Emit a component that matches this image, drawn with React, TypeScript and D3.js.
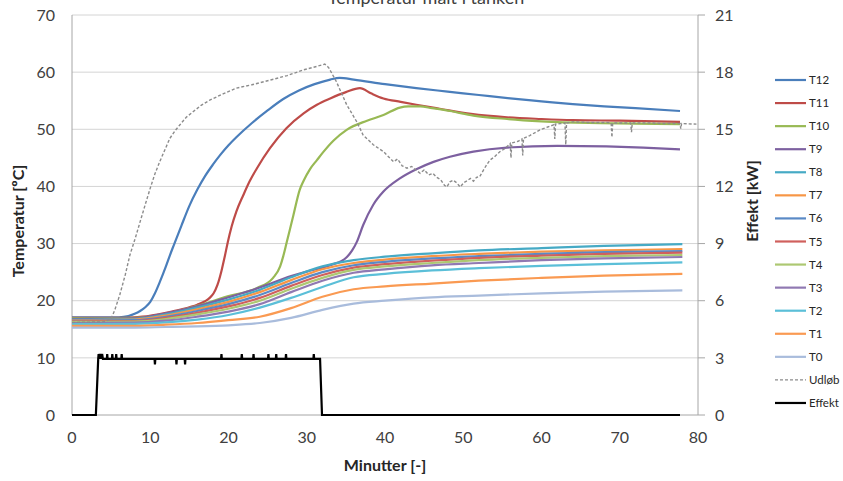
import React from "react";
import * as d3 from "d3";

type P = [number, number];

// ---- data ----
const minutesLow = [0, 8, 12, 16, 20, 24, 28, 32, 36, 40, 46, 52, 60, 68, 78];
const T8 = [16.7, 16.8, 17.6, 18.8, 20.2, 21.9, 24.1, 26.0, 27.1, 27.7, 28.3, 28.8, 29.2, 29.6, 29.9];
const T7 = [16.6, 16.7, 17.4, 18.5, 19.8, 21.5, 23.6, 25.5, 26.6, 27.2, 27.8, 28.2, 28.6, 28.8, 29.05];
const T6 = [16.5, 16.6, 17.2, 18.2, 19.4, 21.0, 23.1, 25.0, 26.2, 26.8, 27.4, 27.8, 28.2, 28.5, 28.7];
const T5 = [16.4, 16.45, 17.0, 17.9, 19.0, 20.5, 22.6, 24.5, 25.8, 26.4, 27.0, 27.5, 27.9, 28.2, 28.4];
const T4 = [16.3, 16.35, 16.8, 17.6, 18.6, 20.0, 22.1, 24.0, 25.4, 26.0, 26.6, 27.1, 27.5, 27.8, 28.0];
const T3 = [16.1, 16.15, 16.5, 17.2, 18.1, 19.4, 21.5, 23.5, 24.9, 25.5, 26.2, 26.6, 27.1, 27.4, 27.65];
const T2 = [15.9, 15.95, 16.2, 16.7, 17.5, 18.8, 20.5, 22.4, 24.1, 24.7, 25.3, 25.7, 26.1, 26.4, 26.7];
const T1 = [15.6, 15.6, 15.8, 16.1, 16.6, 17.2, 18.7, 20.7, 22.0, 22.5, 23.0, 23.5, 24.0, 24.4, 24.7];
const T0 = [15.3, 15.3, 15.4, 15.5, 15.7, 16.1, 17.0, 18.4, 19.5, 20.0, 20.6, 20.9, 21.3, 21.6, 21.8];

const T12: P[] = [[0,17.1],[6,17.1],[7.2,17.3],[8,17.7],[8.7,18.2],[9.4,18.9],[10,19.8],[10.6,21.3],[11.2,23.2],[12,26.0],[12.5,27.9],[13,29.7],[14,33.2],[15,36.6],[16,39.4],[17,41.8],[18,43.8],[19,45.6],[20,47.2],[21,48.6],[23,51.1],[25,53.3],[27,55.3],[29,56.8],[31,57.9],[33,58.7],[34.2,59.0],[36,58.7],[40,57.9],[44,57.2],[48,56.6],[52,56.0],[56,55.4],[60,54.9],[64,54.4],[68,54.0],[72,53.7],[77.7,53.2]];
const T11: P[] = [[0,17.0],[7,17.0],[9,17.2],[12,17.9],[14,18.5],[16,19.3],[17,19.9],[17.6,20.5],[18.1,21.3],[18.6,22.8],[19.1,25.2],[19.5,27.6],[19.9,30.2],[20.4,33.0],[21.0,35.6],[21.9,38.5],[22.7,40.9],[23.6,43.1],[25.3,46.7],[27.4,50.2],[29.6,52.8],[31.3,54.3],[33,55.4],[35,56.5],[36.8,57.2],[38.2,56.3],[39.8,55.4],[42,54.8],[44,54.3],[47,53.6],[51,52.7],[55.6,52.1],[60,51.8],[64,51.6],[70,51.5],[77.7,51.3]];
const T10: P[] = [[0,16.9],[8,17.0],[12,17.7],[16,19.1],[20,20.8],[23.6,22.2],[25.7,24.0],[26.6,26.0],[27.0,27.8],[27.4,30.0],[28.3,35.0],[29.1,39.4],[29.6,41.0],[30.4,43.0],[31.3,44.6],[32.1,46.0],[33.4,48.0],[35.1,49.9],[37.7,51.5],[39.8,52.5],[41.9,53.8],[43,54.0],[44.5,54.0],[46,53.7],[48.3,53.2],[51.3,52.4],[55.6,51.8],[60,51.4],[66,51.1],[72,51.0],[77.7,50.9]];
const T9: P[] = [[0,16.8],[8,16.9],[12,17.8],[16,19.0],[20,20.6],[24,22.3],[28,24.3],[30,25.1],[32,25.8],[33.4,26.4],[34.4,26.9],[35.1,27.6],[35.8,28.8],[36.4,30.3],[37.2,33.2],[38.5,36.8],[39.8,39.1],[41.9,41.4],[44,43.0],[46.2,44.3],[48.3,45.2],[51.3,46.1],[55.6,46.8],[62,47.1],[68.3,47.0],[73,46.8],[77.7,46.5]];

const udlob: P[] = [[0,16.2],[4,16.3],[5,16.8],[5.5,18.5],[6.1,21],[6.8,24.5],[7.4,28],[8.1,31],[8.7,33.8],[9.4,37],[10,39.7],[10.6,42.2],[11.2,44.3],[11.9,46.5],[12.5,48.4],[13.2,49.8],[13.8,50.8],[14.6,52.1],[15.5,53.1],[16.5,54.2],[17.6,55.1],[19.3,56.2],[21,57.2],[23,57.8],[25.3,58.6],[27.5,59.4],[29.6,60.4],[31,60.9],[32.3,61.4],[32.8,60.8],[33.8,58.3],[35.1,54.3],[36.4,51.3],[37.2,49],[38.5,47.3],[39.8,46.1],[41.1,44.3],[41.6,44.8],[42.2,43.6],[42.8,43.2],[43.4,43.5],[44.0,42.8],[44.5,42.3],[45.0,42.9],[45.6,42.0],[46.1,42.3],[46.6,41.6],[47.1,41.2],[47.6,40.2],[47.9,39.9],[48.3,40.8],[48.7,41.1],[49.2,40.6],[49.6,39.9],[50.1,40.7],[50.5,41.0],[50.9,41.4],[51.3,40.9],[51.7,41.6],[52.1,41.7],[52.6,42.9],[53.0,43.8],[53.4,44.6],[54.0,45.2],[54.7,46.1],[55.3,46.6],[56.0,47.5],[56.1,45.0],[56.2,47.6],[57.0,47.9],[57.5,48.3],[57.6,45.4],[57.7,48.4],[58.5,48.9],[59.8,49.9],[60.8,50.4],[61.6,50.8],[61.7,48.3],[61.8,50.9],[62.4,51.0],[63.0,51.1],[63.1,47.3],[63.2,51.1],[64,51.3],[66,51.2],[68.3,51.2],[68.9,51.1],[69.0,48.6],[69.1,51.1],[71.4,51.1],[71.5,49.5],[71.6,51.1],[74,51.1],[75.5,51.0],[77.7,51.0],[77.8,50.1],[77.9,51.0],[79.8,50.9]];

const effekt: P[] = [[0,0],[3.05,0],[3.35,2.95],[3.4,3.2],[3.5,2.95],[3.55,3.2],[3.65,2.95],[3.7,3.2],[3.8,2.95],[3.85,3.2],[3.95,2.95],[4.45,2.95],[4.5,3.2],[4.55,2.95],[5.1,2.95],[5.15,3.2],[5.2,2.95],[5.6,2.95],[5.65,3.2],[5.7,2.95],[6.3,2.95],[6.35,3.2],[6.4,2.95],[10.55,2.95],[10.6,2.65],[10.65,2.95],[13.3,2.95],[13.35,2.65],[13.4,2.95],[14.4,2.95],[14.45,2.65],[14.5,2.95],[19.05,2.95],[19.1,3.2],[19.15,2.95],[21.65,2.95],[21.7,3.2],[21.75,2.95],[23.15,2.95],[23.2,3.2],[23.25,2.95],[25.05,2.95],[25.1,3.2],[25.15,2.95],[26.05,2.95],[26.1,3.2],[26.15,2.95],[27.3,2.95],[27.35,3.2],[27.4,2.95],[30.85,2.95],[30.9,3.2],[30.95,2.95],[31.7,2.95],[31.95,0],[77.7,0]];

const xTicks = [0, 10, 20, 30, 40, 50, 60, 70, 80];
const yLeftTicks = [0, 10, 20, 30, 40, 50, 60, 70];
const yRightTicks = [0, 3, 6, 9, 12, 15, 18, 21];

const lowSeries = [
  { name: "T8", values: T8, color: "#46AAC5" },
  { name: "T7", values: T7, color: "#F79646" },
  { name: "T6", values: T6, color: "#5A8AC6" },
  { name: "T5", values: T5, color: "#D0605D" },
  { name: "T4", values: T4, color: "#ADC872" },
  { name: "T3", values: T3, color: "#9079B2" },
  { name: "T2", values: T2, color: "#5BBFD8" },
  { name: "T1", values: T1, color: "#FA9A52" },
  { name: "T0", values: T0, color: "#A9BCDC" },
];
const highSeries = [
  { name: "T12", pts: T12, color: "#4A7EBB" },
  { name: "T11", pts: T11, color: "#BE4B48" },
  { name: "T10", pts: T10, color: "#98B954" },
  { name: "T9", pts: T9, color: "#7D60A0" },
];

const FONT = "Lato, 'Open Sans', sans-serif";

export default function App() {
  const W = 843, H = 481;
  const x = d3.scaleLinear().domain([0, 80]).range([72, 698]);
  const yL = d3.scaleLinear().domain([0, 70]).range([415, 15]);
  const yR = d3.scaleLinear().domain([0, 21]).range([415, 15]);

  const smooth = d3.line<P>().x(d => x(d[0])).y(d => yL(d[1])).curve(d3.curveMonotoneX);
  const linL = d3.line<P>().x(d => x(d[0])).y(d => yL(d[1]));
  const linR = d3.line<P>().x(d => x(d[0])).y(d => yR(d[1]));

  const allSeries = [
    ...highSeries.map(s => ({ name: s.name, color: s.color, pts: s.pts })),
    ...lowSeries.map(s => ({ name: s.name, color: s.color, pts: minutesLow.map((m, i) => [m, s.values[i]] as P) })),
  ];

  const legendItems = [
    ...allSeries.map(s => ({ name: s.name, color: s.color, dash: "", w: 2.2 })),
    { name: "Udløb", color: "#8C8C8C", dash: "3,2", w: 1.4 },
    { name: "Effekt", color: "#000000", dash: "", w: 2.2 },
  ];

  return (
    <svg width={W} height={H} style={{ position: "absolute", left: 0, top: 0, background: "#fff" }} fontFamily={FONT}>
      <rect width={W} height={H} fill="#fff" />
      {yLeftTicks.filter(t => t > 0).map(t => (
        <line key={"g" + t} x1={72} x2={698} y1={yL(t)} y2={yL(t)} stroke="#D4D4D4" strokeWidth={1} />
      ))}
      <line x1={72} x2={72} y1={15} y2={415} stroke="#A6A6A6" />
      <line x1={698} x2={698} y1={15} y2={415} stroke="#A6A6A6" />
      <line x1={72} x2={698} y1={415} y2={415} stroke="#A6A6A6" />
      {yRightTicks.map(t => (
        <line key={"rt" + t} x1={698} x2={705} y1={yR(t)} y2={yR(t)} stroke="#A6A6A6" />
      ))}
      {yLeftTicks.map(t => (
        <text key={"yl" + t} x={55} y={yL(t)} dy="0.36em" textAnchor="end" fontSize={16} fill="#404040">{t}</text>
      ))}
      {yRightTicks.map(t => (
        <text key={"yr" + t} x={715} y={yR(t)} dy="0.36em" textAnchor="start" fontSize={16} fill="#404040">{t}</text>
      ))}
      {xTicks.map(t => (
        <text key={"xt" + t} x={x(t)} y={443} textAnchor="middle" fontSize={16} fill="#404040">{t}</text>
      ))}
      <text x={426} y={4} textAnchor="middle" fontSize={18} fill="#404040">Temperatur målt i tanken</text>
      <text x={385} y={471} textAnchor="middle" fontSize={16} fontWeight="bold" fill="#262626">Minutter [-]</text>
      <text transform="translate(24,221) rotate(-90)" textAnchor="middle" fontSize={16} fontWeight="bold" fill="#262626">Temperatur [ºC]</text>
      <text transform="translate(758,201) rotate(-90)" textAnchor="middle" fontSize={16} fontWeight="bold" fill="#262626">Effekt [kW]</text>

      {allSeries.map(s => (
        <path key={s.name} d={smooth(s.pts) || ""} fill="none" stroke={s.color} strokeWidth={2.2} strokeLinejoin="round" />
      ))}
      <path d={linL(udlob) || ""} fill="none" stroke="#8C8C8C" strokeWidth={1.4} strokeDasharray="3,2" />
      <path d={linR(effekt) || ""} fill="none" stroke="#000" strokeWidth={2.2} strokeLinejoin="miter" />

      {legendItems.map((it, i) => {
        const y = 80 + i * 23.07;
        return (
          <g key={"lg" + it.name}>
            <line x1={775} x2={806} y1={y} y2={y} stroke={it.color} strokeWidth={it.w} strokeDasharray={it.dash || undefined} />
            <text x={809} y={y} dy="0.35em" fontSize={11.5} fill="#262626">{it.name}</text>
          </g>
        );
      })}
    </svg>
  );
}
